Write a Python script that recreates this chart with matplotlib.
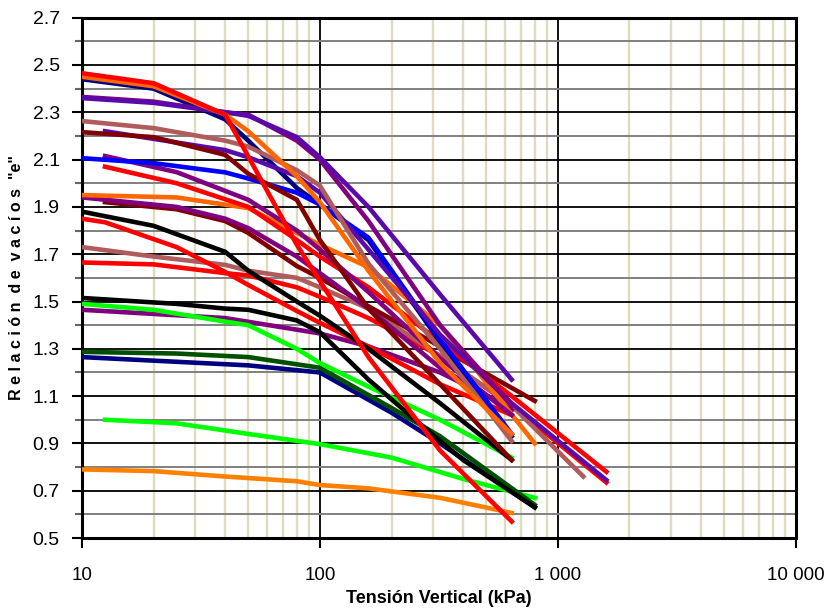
"""
Curvas de compresibilidad: relacion de vacios "e" frente a tension vertical
(escala logaritmica). Valores leidos a ojo de la figura original.
"""
import numpy as np
import matplotlib
matplotlib.use('Agg')
import matplotlib.pyplot as plt
from matplotlib.ticker import FixedLocator, LogLocator, NullFormatter

plt.rcParams['font.family'] = ['Liberation Sans', 'DejaVu Sans']

# presiones (kPa) y relacion de vacios de cada ensayo
red_steep_p = [10, 20, 40, 80, 160, 320, 640]
red_steep_e = [2.465, 2.423, 2.29, 1.74, 1.265, 0.87, 0.57]

orange_top_p = [10, 20, 40, 50, 80, 100, 160, 320, 640]
orange_top_e = [2.45, 2.41, 2.29, 2.22, 2.03, 1.92, 1.63, 1.24, 0.94]

navy_top_p = [10, 20, 40, 50, 80, 100, 160, 320, 640]
navy_top_e = [2.44, 2.40, 2.27, 2.18, 1.98, 1.91, 1.76, 1.33, 0.93]

indigo_top_p = [10, 20, 40, 50, 80, 100, 160, 320, 640]
indigo_top_e = [2.36, 2.34, 2.30, 2.285, 2.195, 2.11, 1.90, 1.53, 1.17]

purple_top_p = [10, 20, 40, 50, 80, 100, 160, 320, 640]
purple_top_e = [2.365, 2.345, 2.30, 2.29, 2.18, 2.10, 1.84, 1.40, 1.06]

rosy_top_p = [10, 20, 40, 50, 80, 100, 160, 320, 640]
rosy_top_e = [2.263, 2.233, 2.18, 2.155, 2.055, 1.99, 1.66, 1.30, 0.91]

maroon_top_p = [10, 20, 40, 50, 80, 100, 160, 320, 640]
maroon_top_e = [2.216, 2.195, 2.12, 2.04, 1.93, 1.76, 1.47, 1.15, 0.83]

indigo_2_p = [12.5, 40, 50, 80, 100, 160, 320, 640, 1600]
indigo_2_e = [2.22, 2.14, 2.11, 2.03, 1.96, 1.72, 1.36, 1.07, 0.745]

blue_p = [10, 20, 40, 50, 80, 100, 160, 320, 640]
blue_e = [2.106, 2.085, 2.046, 2.02, 1.96, 1.91, 1.77, 1.34, 0.94]

purple_3_p = [12.5, 25, 50, 80, 100, 160, 320, 640]
purple_3_e = [2.115, 2.047, 1.93, 1.80, 1.72, 1.54, 1.26, 1.02]

red_2_p = [12.5, 25, 50, 80, 100, 160, 320, 640, 1600]
red_2_e = [2.07, 2.0, 1.90, 1.76, 1.69, 1.56, 1.33, 1.10, 0.78]

orange_2_p = [10, 25, 50, 80, 100, 160, 320, 400, 800]
orange_2_e = [1.95, 1.94, 1.895, 1.79, 1.74, 1.645, 1.40, 1.28, 0.90]

purple_2_p = [10, 25, 40, 50, 80, 100, 160, 320, 640]
purple_2_e = [1.94, 1.90, 1.85, 1.81, 1.69, 1.62, 1.47, 1.22, 1.04]

maroon_2_p = [12.5, 25, 40, 50, 80, 100, 160, 320, 400, 800]
maroon_2_e = [1.92, 1.89, 1.84, 1.79, 1.65, 1.60, 1.48, 1.31, 1.25, 1.08]

black_a_p = [10, 20, 40, 50, 80, 100, 160, 320, 640]
black_a_e = [1.88, 1.82, 1.71, 1.63, 1.50, 1.44, 1.30, 1.07, 0.83]

red_3_p = [10, 12.5, 25, 40, 50, 80, 100, 160, 320, 640]
red_3_e = [1.85, 1.835, 1.73, 1.625, 1.57, 1.46, 1.41, 1.31, 1.15, 1.02]

rosy_2_p = [10, 20, 40, 50, 80, 100, 160, 320, 640, 1280]
rosy_2_e = [1.73, 1.69, 1.655, 1.63, 1.60, 1.56, 1.47, 1.27, 1.06, 0.76]

red_4_p = [10, 20, 40, 50, 80, 100, 160, 320, 640, 1600]
red_4_e = [1.665, 1.657, 1.62, 1.61, 1.56, 1.52, 1.43, 1.27, 1.06, 0.735]

black_b_p = [10, 25, 40, 50, 80, 100, 160, 320, 400, 800]
black_b_e = [1.515, 1.49, 1.47, 1.465, 1.42, 1.37, 1.17, 0.91, 0.83, 0.63]

green_1_p = [10, 20, 40, 50, 80, 100, 160, 320, 640]
green_1_e = [1.49, 1.465, 1.415, 1.40, 1.30, 1.24, 1.14, 1.0, 0.84]

purple_4_p = [10, 40, 100, 160, 320, 640]
purple_4_e = [1.465, 1.43, 1.365, 1.31, 1.20, 1.05]

dkgreen_p = [10, 25, 50, 100, 200, 320, 800]
dkgreen_e = [1.287, 1.28, 1.265, 1.22, 1.05, 0.93, 0.64]

navy_p = [10, 50, 100, 200, 320, 800]
navy_e = [1.265, 1.23, 1.20, 1.03, 0.90, 0.63]

green_2_p = [12.5, 25, 50, 100, 200, 400, 800]
green_2_e = [1.0, 0.985, 0.94, 0.897, 0.84, 0.75, 0.67]

orange_low_p = [10, 20, 40, 80, 100, 160, 320, 640]
orange_low_e = [0.79, 0.783, 0.76, 0.74, 0.724, 0.71, 0.67, 0.606]

RED = '#ff0000'
ORANGE = '#ff6600'
ORANGE2 = '#ff8000'
PURPLE = '#800080'
INDIGO = '#5a0aaa'
ROSY = '#b05c5c'
MAROON = '#800000'
BLUE = '#0000ff'
NAVY = '#000080'
GREEN = '#00ff00'
DKGREEN = '#005000'

# orden de dibujo: el ultimo queda encima
series = [
    (orange_low_p, orange_low_e, ORANGE2),
    (green_2_p, green_2_e, GREEN),
    (navy_p, navy_e, NAVY),
    (dkgreen_p, dkgreen_e, DKGREEN),
    (purple_4_p, purple_4_e, PURPLE),
    (green_1_p, green_1_e, GREEN),
    (black_b_p, black_b_e, 'black'),
    (red_4_p, red_4_e, RED),
    (rosy_2_p, rosy_2_e, ROSY),
    (red_3_p, red_3_e, RED),
    (black_a_p, black_a_e, 'black'),
    (maroon_2_p, maroon_2_e, MAROON),
    (purple_2_p, purple_2_e, PURPLE),
    (orange_2_p, orange_2_e, ORANGE),
    (red_2_p, red_2_e, RED),
    (purple_3_p, purple_3_e, PURPLE),
    (navy_top_p, navy_top_e, NAVY),
    (blue_p, blue_e, BLUE),
    (indigo_2_p, indigo_2_e, INDIGO),
    (maroon_top_p, maroon_top_e, MAROON),
    (rosy_top_p, rosy_top_e, ROSY),
    (purple_top_p, purple_top_e, PURPLE),
    (indigo_top_p, indigo_top_e, INDIGO),
    (orange_top_p, orange_top_e, ORANGE),
    (red_steep_p, red_steep_e, RED),
]

fig = plt.figure(figsize=(8.28, 6.10), dpi=100)
ax = fig.add_axes([0.099, 0.118, 0.862, 0.853])

for p, e, c in series:
    ax.plot(p, e, color=c, linewidth=3.3, solid_joinstyle='miter', zorder=3)

ax.set_xscale('log')
ax.set_xlim(10, 10000)
ax.set_ylim(0.5, 2.7)

ax.xaxis.set_major_locator(FixedLocator([10, 100, 1000, 10000]))
ax.set_xticklabels(['10', '100', '1 000', '10 000'])
ax.xaxis.set_minor_locator(LogLocator(base=10, subs=np.arange(2, 10)))
ax.xaxis.set_minor_formatter(NullFormatter())

yt = np.arange(0.5, 2.71, 0.2)
ax.set_yticks(yt)
ax.set_yticklabels(['%.1f' % v for v in yt])
ax.set_yticks(np.arange(0.6, 2.61, 0.2), minor=True)

ax.grid(which='major', axis='y', color='black', linewidth=1.3, zorder=1)
ax.grid(which='minor', axis='y', color='#808080', linewidth=1.4, zorder=1)
ax.grid(which='major', axis='x', color='black', linewidth=1.3, zorder=1)
ax.grid(which='minor', axis='x', color='#dedcbc', linewidth=1.7, zorder=1)
ax.set_axisbelow(True)

ax.tick_params(axis='y', which='major', length=7, width=1.5, pad=9, labelsize=14)
ax.tick_params(axis='y', which='minor', length=5, width=1.5, color='#666666')
ax.tick_params(axis='x', which='major', length=7, width=1.5, pad=14, labelsize=13.5)
ax.tick_params(axis='x', which='minor', length=0)

for s in ax.spines.values():
    s.set_linewidth(2.2)

ax.set_xlabel('Tensión Vertical (kPa)', fontsize=13, fontweight='bold', labelpad=4)
ax.set_ylabel('R e l a c i ó n  d e  v a c í o s  "e"', fontsize=11.5,
              fontweight='bold', labelpad=6)

fig.savefig('out.png', dpi=100)
